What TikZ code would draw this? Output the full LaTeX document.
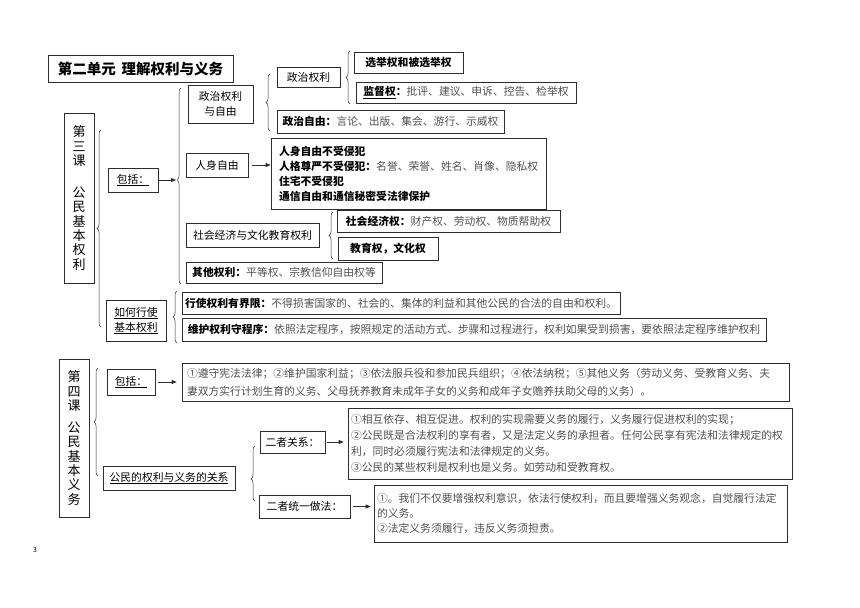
\documentclass[tikz,border=0pt]{standalone}
\usepackage{fontspec}
\setmainfont{Noto Sans CJK SC}
\usepackage{xcolor}
\definecolor{boxline}{RGB}{45,45,45}
\definecolor{lighttext}{RGB}{80,80,80}
\usetikzlibrary{arrows.meta,decorations.pathreplacing}
\tikzstyle{box} = [draw=boxline, line width=0.7pt, inner sep=2pt,
  font=\fontsize{10.8pt}{15pt}\selectfont]
\tikzstyle{brc} = [decorate, decoration={brace, amplitude=4pt},
  draw=boxline, line width=0.5pt]
\tikzstyle{arr} = [-{Triangle[length=5pt,width=4pt]}, draw=boxline, line width=0.7pt]
\newcommand{\dsc}[1]{\textcolor{lighttext}{#1}}

\begin{document}
\begin{tikzpicture}[x=1pt,y=-1pt]
  \useasboundingbox (0,0) rectangle (860,608);

  % unit two, lesson three
  \node[box, minimum width=185pt, minimum height=27pt,
    font=\bfseries\fontsize{14.5pt}{16pt}\selectfont] (title) at (140.5,68.5) {第二单元\hspace{6pt}理解权利与义务};
  \node[box, minimum width=30pt, minimum height=170pt, align=center,
    font=\fontsize{13pt}{14.3pt}\selectfont] (ke3) at (79,198) {第\\三\\课\\[18pt]公\\民\\基\\本\\权\\利};

  \node[box, minimum width=50pt, minimum height=24pt] (bk1) at (133,180) {\underline{包括：}};
  \node[box, minimum width=60pt, minimum height=41pt, align=center] (ruhe) at (136,320.5) {\underline{如何行使}\\\underline{基本权利}};

  \node[box, minimum width=65pt, minimum height=38pt, align=center] (zzql) at (220.5,104) {政治权利\\与自由};
  \node[box, minimum width=63pt, minimum height=20pt] (zzq) at (308.5,77) {政治权利};
  \node[box, minimum width=109pt, minimum height=21pt] (xj) at (408.5,62.5) {\textbf{选举权和被选举权}};
  \node[box, minimum width=220pt, minimum height=21pt] (jd) at (466,92.5) {\textbf{\underline{监督权}：}\dsc{批评、建议、申诉、控告、检举权}};
  \node[box, minimum width=227pt, minimum height=23pt] (zzzy) at (390.5,121.5) {\textbf{政治自由：}\dsc{言论、出版、集会、游行、示威权}};

  \node[box, minimum width=62pt, minimum height=24pt] (rs) at (217,165) {人身自由};
  \node[box, text width=259pt, inner xsep=8pt, minimum height=71pt, align=left] (rstext) at (408.5,173.5)
    {\textbf{人身自由不受侵犯}\\\textbf{人格尊严不受侵犯：}\dsc{名誉、荣誉、姓名、肖像、隐私权}\\\textbf{住宅不受侵犯}\\\textbf{通信自由和通信秘密受法律保护}};

  \node[box, minimum width=133pt, minimum height=24pt] (sh) at (252.5,235) {社会经济与文化教育权利};
  \node[box, minimum width=223pt, minimum height=22pt] (shjj) at (448.5,221) {\textbf{社会经济权：}\dsc{财产权、劳动权、物质帮助权}};
  \node[box, minimum width=100pt, minimum height=23pt] (jy) at (388,248.5) {\textbf{教育权，文化权}};
  \node[box, minimum width=196pt, minimum height=21pt] (qt) at (284,272.5) {\textbf{其他权利：}\dsc{平等权、宗教信仰自由权等}};

  \node[box, minimum width=438pt, minimum height=22pt] (xs) at (401,303) {\textbf{行使权利有界限：}\dsc{不得损害国家的、社会的、集体的利益和其他公民的合法的自由和权利。}};
  \node[box, minimum width=584pt, minimum height=23pt] (wh) at (474,329.5) {\textbf{维护权利守程序：}\dsc{依照法定程序，按照规定的活动方式、步骤和过程进行，权利如果受到损害，要依照法定程序维护权利}};

  \coordinate (b2tip) at (176,180);
  \draw[brc] (101,327) -- (101,130);
  \draw[brc, decoration={aspect=0.53}] (181,284) -- (181,88);
  \draw[brc] (270,131) -- (270,74);
  \draw[brc] (350,104) -- (350,51);
  \draw[brc] (333,259) -- (333,212);
  \draw[brc] (177,343) -- (177,291);

  \draw[arr] (bk1) -- (b2tip);
  \draw[arr, shorten <=4pt] (rs) -- (rs -| rstext.west);

  % lesson four
  \node[box, minimum width=30pt, minimum height=158pt, align=center,
    font=\fontsize{13pt}{14.3pt}\selectfont] (ke4) at (74,438) {第\\四\\课\\[8pt]公\\民\\基\\本\\义\\务};
  \node[box, minimum width=48pt, minimum height=26pt] (bk2) at (131,382) {\underline{包括：}};
  \node[box, text width=597pt, inner xsep=5pt, minimum height=38pt, align=left,
    font=\fontsize{10.8pt}{18pt}\selectfont] (yw) at (485.5,382)
    {\dsc{①遵守宪法法律；②维护国家利益；③依法服兵役和参加民兵组织；④依法纳税；⑤其他义务（劳动义务、受教育义务、夫}\\\dsc{妻双方实行计划生育的义务、父母抚养教育未成年子女的义务和成年子女赡养扶助父母的义务）。}};

  \node[box, minimum width=132pt, minimum height=24pt] (gx) at (169,478) {\underline{公民的权利与义务的关系}};
  \node[box, minimum width=65pt, minimum height=22pt] (ez) at (292.5,442) {二者关系：};
  \node[box, text width=438pt, inner xsep=3pt, minimum height=71pt, align=left,
    font=\fontsize{10.8pt}{16pt}\selectfont] (eztext) at (570,443.5)
    {\dsc{①相互依存、相互促进。权利的实现需要义务的履行，义务履行促进权利的实现；}\\\dsc{②公民既是合法权利的享有者，又是法定义务的承担者。任何公民享有宪法和法律规定的权}\\\dsc{利，同时必须履行宪法和法律规定的义务。}\\\dsc{③公民的某些权利是权利也是义务。如劳动和受教育权。}};
  \node[box, minimum width=91pt, minimum height=23pt] (ty) at (304.5,506.5) {二者统一做法：};
  \node[box, text width=407pt, inner xsep=3pt, minimum height=57pt, align=left] (tytext) at (580.5,513.5)
    {\dsc{①。我们不仅要增强权利意识，依法行使权利，而且要增强义务观念，自觉履行法定}\\\dsc{的义务。}\\\dsc{②法定义务须履行，违反义务须担责。}};

  \draw[brc] (98,476) -- (98,368);
  \draw[brc, decoration={aspect=0.4}] (255,501) -- (255,446);

  \draw[arr, shorten <=3pt, shorten >=5pt] (bk2) -- (bk2 -| yw.west);
  \draw[arr, shorten <=2pt, shorten >=4pt] (ez) -- (ez -| eztext.west);
  \draw[arr, shorten <=3pt, shorten >=3pt] (ty) -- (ty -| tytext.west);

  \node[font=\fontsize{7pt}{8pt}\selectfont] (pg) at (35,550) {3};
\end{tikzpicture}
\end{document}
